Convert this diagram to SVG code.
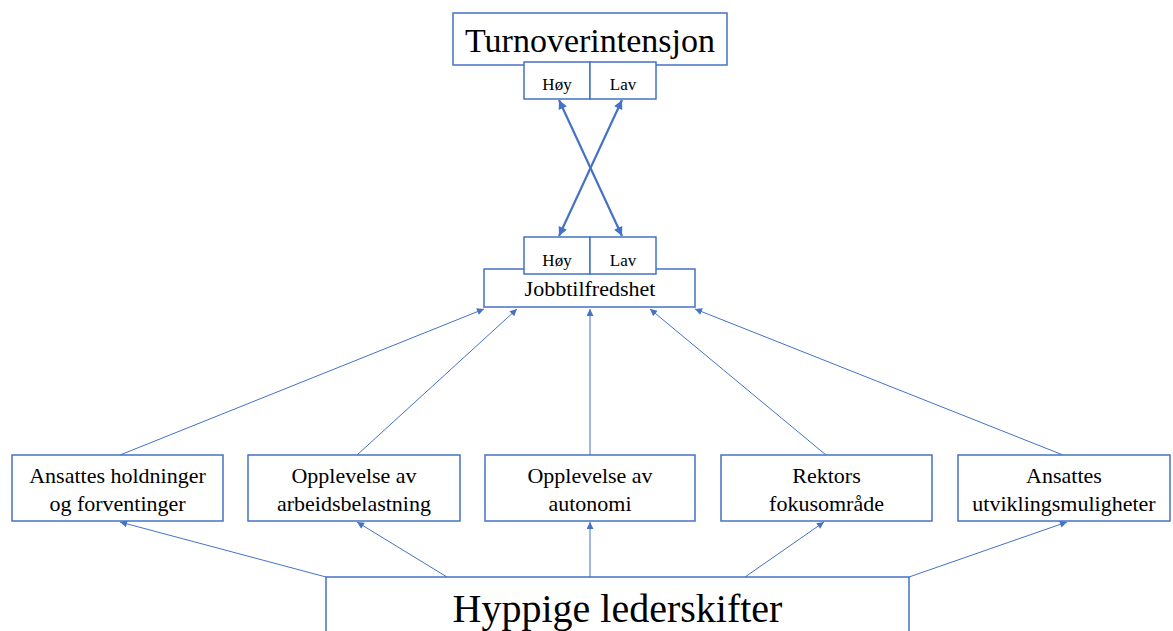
<svg xmlns="http://www.w3.org/2000/svg" width="1173" height="631" viewBox="0 0 1173 631">
  <style>
    .box { fill: #ffffff; stroke: #4472C4; stroke-width: 1.5; }
    .t { font-family: "Liberation Serif", "Times New Roman", serif; fill: #000000; text-anchor: middle; }
    .thin { stroke: #4472C4; stroke-width: 1; fill: none; marker-end: url(#ah); }
    .thick { stroke: #4472C4; stroke-width: 2.2; fill: none; marker-start: url(#ahb); marker-end: url(#ahb); }
  </style>
  <defs>
    <marker id="ah" viewBox="0 0 10 10" refX="10" refY="5" markerWidth="9" markerHeight="7" markerUnits="userSpaceOnUse" orient="auto-start-reverse">
      <path d="M0,0 L10,5 L0,10 Z" fill="#4472C4"/>
    </marker>
    <marker id="ahb" viewBox="0 0 10 10" refX="10" refY="5" markerWidth="11" markerHeight="9" markerUnits="userSpaceOnUse" orient="auto-start-reverse">
      <path d="M0,0 L10,5 L0,10 Z" fill="#4472C4"/>
    </marker>
  </defs>

  <!-- connectors -->
  <g id="connectors">
    <line class="thick" x1="622" y1="236" x2="559" y2="100"/>
    <line class="thick" x1="559" y1="236" x2="622" y2="100"/>

    <line class="thin" x1="120" y1="455" x2="484" y2="309"/>
    <line class="thin" x1="357" y1="455" x2="517" y2="309"/>
    <line class="thin" x1="590" y1="455" x2="590" y2="309"/>
    <line class="thin" x1="826" y1="455" x2="650" y2="309"/>
    <line class="thin" x1="1063" y1="455" x2="695" y2="309"/>

    <line class="thin" x1="326" y1="577" x2="120" y2="522"/>
    <line class="thin" x1="447" y1="577" x2="357" y2="522"/>
    <line class="thin" x1="590" y1="577" x2="590" y2="522"/>
    <line class="thin" x1="745" y1="577" x2="824" y2="522"/>
    <line class="thin" x1="909" y1="577" x2="1067" y2="522"/>
  </g>

  <g id="turnover">
    <rect class="box" x="453" y="13" width="274" height="52"/>
    <text class="t" x="590" y="52" font-size="34">Turnoverintensjon</text>
  </g>
  <g id="turnover-hoy">
    <rect class="box" x="524" y="62" width="66" height="37"/>
    <text class="t" x="557" y="90" font-size="17">Høy</text>
  </g>
  <g id="turnover-lav">
    <rect class="box" x="590" y="62" width="66" height="37"/>
    <text class="t" x="623" y="90" font-size="17">Lav</text>
  </g>

  <g id="jobb">
    <rect class="box" x="484" y="269" width="211" height="38"/>
    <text class="t" x="590" y="296" font-size="22">Jobbtilfredshet</text>
  </g>
  <g id="jobb-hoy">
    <rect class="box" x="524" y="237" width="66" height="37"/>
    <text class="t" x="557" y="266" font-size="17">Høy</text>
  </g>
  <g id="jobb-lav">
    <rect class="box" x="590" y="237" width="66" height="37"/>
    <text class="t" x="623" y="266" font-size="17">Lav</text>
  </g>

  <g id="holdninger">
    <rect class="box" x="12" y="455" width="211" height="66"/>
    <text class="t" x="117.5" y="483" font-size="22">Ansattes holdninger</text>
    <text class="t" x="117.5" y="511" font-size="22">og forventinger</text>
  </g>
  <g id="arbeidsbelastning">
    <rect class="box" x="248" y="455" width="212" height="66"/>
    <text class="t" x="354" y="483" font-size="22">Opplevelse av</text>
    <text class="t" x="354" y="511" font-size="22">arbeidsbelastning</text>
  </g>
  <g id="autonomi">
    <rect class="box" x="485" y="455" width="210" height="66"/>
    <text class="t" x="590" y="483" font-size="22">Opplevelse av</text>
    <text class="t" x="590" y="511" font-size="22">autonomi</text>
  </g>
  <g id="fokusomrade">
    <rect class="box" x="721" y="455" width="211" height="66"/>
    <text class="t" x="826.5" y="483" font-size="22">Rektors</text>
    <text class="t" x="826.5" y="511" font-size="22">fokusområde</text>
  </g>
  <g id="utvikling">
    <rect class="box" x="958" y="455" width="212" height="66"/>
    <text class="t" x="1064" y="483" font-size="22">Ansattes</text>
    <text class="t" x="1064" y="511" font-size="22">utviklingsmuligheter</text>
  </g>

  <g id="lederskifter">
    <rect class="box" x="326" y="577" width="583" height="70"/>
    <text class="t" x="617.5" y="622" font-size="40">Hyppige lederskifter</text>
  </g>
</svg>
